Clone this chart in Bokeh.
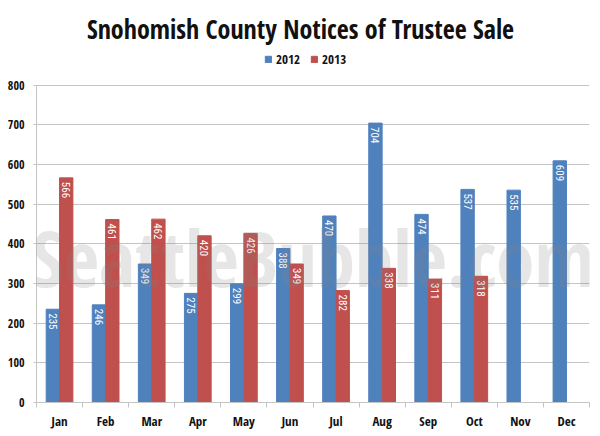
import math
from bokeh.plotting import figure
from bokeh.models import ColumnDataSource, FixedTicker, Legend, LegendItem, Label, Range1d
from bokeh.transform import dodge
from bokeh.core.properties import value
from bokeh.embed import file_html
from bokeh.resources import INLINE

months = ["Jan", "Feb", "Mar", "Apr", "May", "Jun", "Jul", "Aug", "Sep", "Oct", "Nov", "Dec"]
values_2012 = [235, 246, 349, 275, 299, 388, 470, 704, 474, 537, 535, 609]
values_2013 = [566, 461, 462, 420, 426, 349, 282, 338, 311, 318]
y_ticks = [0, 100, 200, 300, 400, 500, 600, 700, 800]
series_names = ["2012", "2013"]
title_text = "Snohomish County Notices of Trustee Sale"
watermark = "SeattleBubble.com"

FONT = "Open Sans Condensed"
LABEL_FONT = "Roboto Condensed"
BLUE = "#4F81BD"
RED = "#C0504D"
GRID = "#C4C4C4"
TXT = "#111111"

# layout (pixels): frame spans the top of the page down to the x axis;
# the value axis 0..800 occupies the lower 317.5 px, the header sits above it.
FRAME_W, FRAME_H = 553, 402
AXIS_PX = 317.5
y_top = y_ticks[-1] * FRAME_H / AXIS_PX
px = y_ticks[-1] / AXIS_PX          # data units per pixel

src12 = ColumnDataSource(dict(x=[i + 0.5 for i in range(len(values_2012))], v=values_2012,
                              lab=[str(v) for v in values_2012]))
src13 = ColumnDataSource(dict(x=[i + 0.5 for i in range(len(values_2013))], v=values_2013,
                              lab=[str(v) for v in values_2013]))

p = figure(width=600, height=436, output_backend="svg", toolbar_location=None,
           x_range=Range1d(0, len(months)), y_range=Range1d(0, y_top),
           frame_width=FRAME_W, frame_height=FRAME_H,
           min_border_left=36, min_border_right=11, min_border_top=0, min_border_bottom=34)
p.outline_line_color = None
p.background_fill_color = "white"

bw = 0.29
r12 = p.vbar(x=dodge("x", -bw / 2, range=p.x_range), top="v", width=bw, source=src12,
             fill_color=BLUE, line_color=BLUE)
r13 = p.vbar(x=dodge("x", bw / 2, range=p.x_range), top="v", width=bw, source=src13,
             fill_color=RED, line_color=RED)

for src, off in ((src12, -bw / 2), (src13, bw / 2)):
    p.text(x=dodge("x", off, range=p.x_range), y="v", text="lab", source=src,
           angle=-math.pi / 2, text_align="left", text_baseline="middle",
           text_color="white", text_font=value(LABEL_FONT), text_font_size="11px",
           y_offset=4)

# watermark
p.add_layout(Label(x=6.0, y=365, text=watermark, text_align="center", text_baseline="alphabetic",
                   text_font=FONT, text_font_style="bold", text_font_size="77px",
                   text_color="#808080", text_alpha=0.2, level="overlay"))

# title
p.add_layout(Label(x=len(months) * (300 - 36) / FRAME_W, y=(FRAME_H - 28) * px,
                   text=title_text, text_align="center", text_baseline="alphabetic",
                   text_font=FONT, text_font_style="bold", text_font_size="26px",
                   text_color=TXT))

legend = Legend(items=[LegendItem(label=series_names[0], renderers=[r12]),
                       LegendItem(label=series_names[1], renderers=[r13])],
                orientation="horizontal", location=(228, FRAME_H - 68),
                label_text_font=FONT, label_text_font_style="bold",
                label_text_font_size="13px", label_text_color=TXT,
                glyph_width=8, glyph_height=8, spacing=10, label_standoff=4,
                label_height=14, border_line_color=None, background_fill_alpha=0,
                padding=0, margin=0)
p.add_layout(legend)

xa = p.xaxis[0]
xa.ticker = FixedTicker(ticks=[i + 0.5 for i in range(len(months))],
                        minor_ticks=list(range(len(months) + 1)))
xa.major_label_overrides = {i + 0.5: m for i, m in enumerate(months)}
xa.major_tick_line_color = None
xa.minor_tick_line_color = GRID
xa.minor_tick_in = 0
xa.minor_tick_out = 5
xa.axis_line_color = GRID
xa.major_label_text_font = FONT
xa.major_label_text_font_style = "bold"
xa.major_label_text_font_size = "13px"
xa.major_label_text_color = TXT
xa.major_label_standoff = 3

ya = p.yaxis[0]
ya.ticker = FixedTicker(ticks=y_ticks)
ya.bounds = (y_ticks[0], y_ticks[-1])
ya.major_tick_line_color = GRID
ya.major_tick_in = 0
ya.major_tick_out = 3
ya.minor_tick_line_color = None
ya.axis_line_color = GRID
ya.major_label_text_font = FONT
ya.major_label_text_font_style = "bold"
ya.major_label_text_font_size = "12px"
ya.major_label_text_color = TXT
ya.major_label_standoff = 9

p.xgrid.grid_line_color = None
p.ygrid.grid_line_color = GRID
p.ygrid.ticker = FixedTicker(ticks=y_ticks)

open("out.html", "w").write(file_html(p, INLINE))
